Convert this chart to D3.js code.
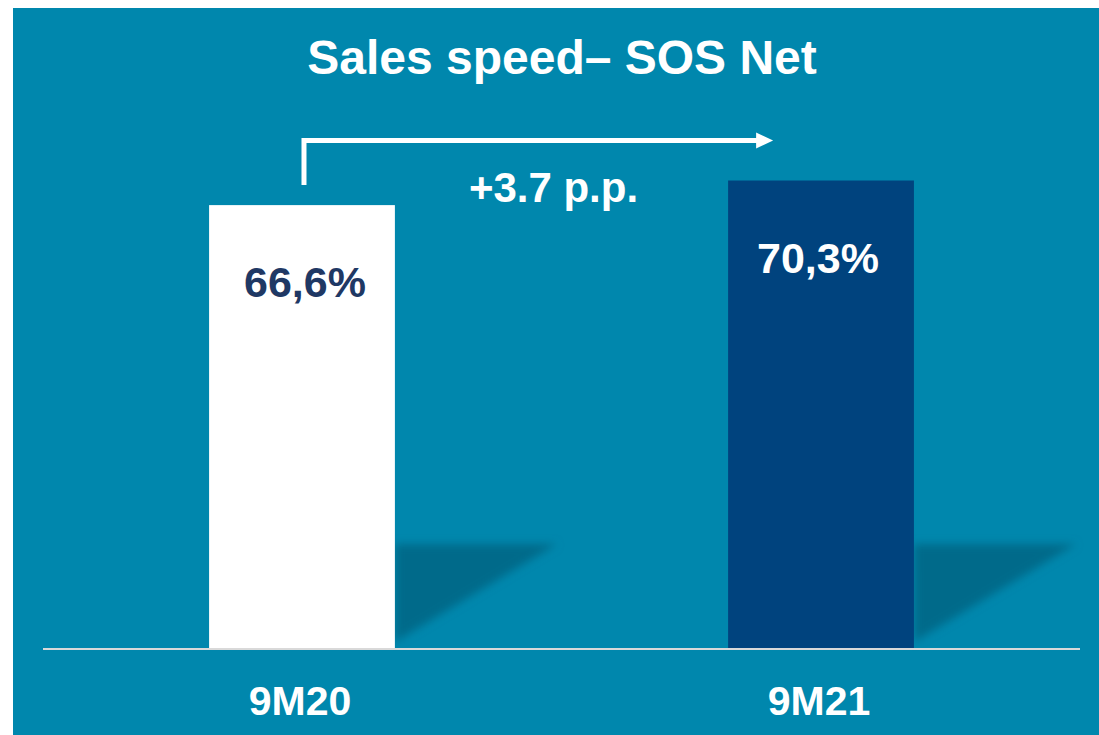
<!DOCTYPE html>
<html>
<head>
<meta charset="utf-8">
<script src="https://cdn.jsdelivr.net/npm/d3@7"></script>
<style>
  html, body { margin: 0; padding: 0; background: #ffffff; }
  svg { display: block; }
  text { font-family: "Liberation Sans", Arial, sans-serif; font-weight: bold; }
</style>
</head>
<body>
<svg id="chart"></svg>
<script>
const periods = ["9M20", "9M21"];
const sosNet = [66.6, 70.3];
const valueLabels = ["66,6%", "70,3%"];
const barColors = ["#ffffff", "#00437e"];
const labelColors = ["#1f3864", "#ffffff"];
const deltaLabel = "+3.7 p.p.";
const titleText = "Sales speed\u2013 SOS Net";

const width = 1099;
const height = 735;
const baseline = 648;

const svg = d3.select("#chart")
    .attr("width", width)
    .attr("height", height);

// teal panel, white strip on top / left
svg.append("rect")
    .attr("x", 13)
    .attr("y", 8)
    .attr("width", width - 13)
    .attr("height", height - 8)
    .attr("fill", "#0087ad");

const defs = svg.append("defs");
defs.append("filter")
    .attr("id", "blur")
    .attr("x", "-20%").attr("y", "-20%")
    .attr("width", "140%").attr("height", "140%")
  .append("feGaussianBlur")
    .attr("stdDeviation", 4);

const x = d3.scaleBand()
    .domain(periods)
    .range([43, 1080])
    .paddingInner(0.642)
    .paddingOuter(0.32);

const y = d3.scaleLinear()
    .domain([0, 75])
    .range([baseline, baseline - 75 * 6.65]);

const data = periods.map((p, i) => ({ period: p, value: sosNet[i], label: valueLabels[i], i: i }));

// shadows behind the bars
svg.append("g")
    .selectAll("path")
    .data(data)
    .enter()
    .append("path")
    .attr("d", d => {
        const r = x(d.period) + x.bandwidth();
        return "M" + r + "," + (baseline - 104) +
               "L" + (r + 162) + "," + (baseline - 104) +
               "L" + r + "," + (baseline - 6) + "Z";
    })
    .attr("fill", "#006a8a")
    .attr("filter", "url(#blur)");

// bars
svg.append("g")
    .selectAll("rect")
    .data(data)
    .enter()
    .append("rect")
    .attr("x", d => x(d.period))
    .attr("y", d => y(d.value))
    .attr("width", x.bandwidth())
    .attr("height", d => y(0) - y(d.value))
    .attr("fill", d => barColors[d.i]);

// baseline
svg.append("line")
    .attr("x1", 43)
    .attr("x2", 1080)
    .attr("y1", baseline + 1)
    .attr("y2", baseline + 1)
    .attr("stroke", "#d9d9d9")
    .attr("stroke-width", 2);

// value labels inside bars
svg.append("g")
    .selectAll("text")
    .data(data)
    .enter()
    .append("text")
    .attr("x", d => x(d.period) + x.bandwidth() / 2 + (d.i === 0 ? 3 : -3))
    .attr("y", d => y(d.value) + 92)
    .attr("text-anchor", "middle")
    .style("font-size", "43px")
    .style("fill", d => labelColors[d.i])
    .text(d => d.label);

// category labels
svg.append("g")
    .selectAll("text")
    .data(data)
    .enter()
    .append("text")
    .attr("x", d => x(d.period) + x.bandwidth() / 2 - 2)
    .attr("y", 715)
    .attr("text-anchor", "middle")
    .style("font-size", "41px")
    .style("fill", "#ffffff")
    .text(d => d.period);

// arrow from 9M20 to 9M21
const ax0 = x(periods[0]) + x.bandwidth() / 2 + 2;
const ax1 = x(periods[1]) + 30;
const ay = 140.5;
svg.append("path")
    .attr("d", "M" + ax0 + ",185 L" + ax0 + "," + ay + " L" + ax1 + "," + ay)
    .attr("fill", "none")
    .attr("stroke", "#ffffff")
    .attr("stroke-width", 5)
    .attr("stroke-linejoin", "miter");
svg.append("path")
    .attr("d", "M" + (ax1 - 2) + "," + (ay - 8) + " L" + (ax1 + 15) + "," + ay + " L" + (ax1 - 2) + "," + (ay + 8) + "Z")
    .attr("fill", "#ffffff");

svg.append("text")
    .attr("x", (x(periods[0]) + x(periods[1]) + x.bandwidth()) / 2 - 8)
    .attr("y", 202)
    .attr("text-anchor", "middle")
    .style("font-size", "42px")
    .style("fill", "#ffffff")
    .text(deltaLabel);

// title
svg.append("text")
    .attr("x", 562)
    .attr("y", 74)
    .attr("text-anchor", "middle")
    .style("font-size", "48px")
    .style("fill", "#ffffff")
    .text(titleText);
</script>
</body>
</html>
